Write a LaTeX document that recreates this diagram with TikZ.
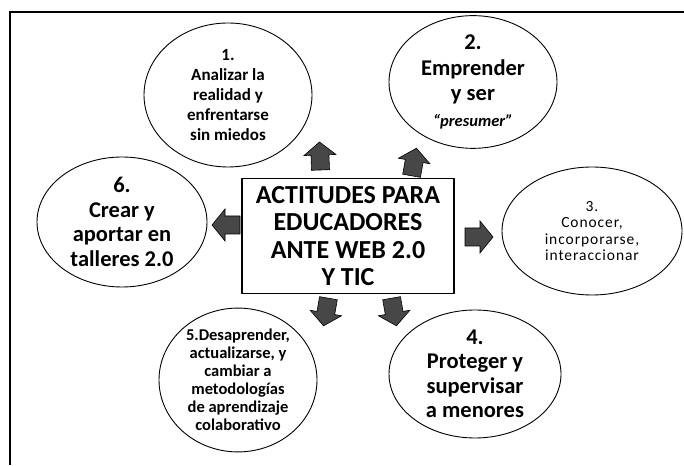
\documentclass[tikz,border=0pt]{standalone}
\usepackage{fontspec}
\setmainfont{Carlito}
\usetikzlibrary{shapes.geometric}
\tikzset{
  oval/.style={ellipse, draw=black, line width=0.9pt, inner sep=0pt, align=center, text=black},
  centerbox/.style={rectangle, draw=black, line width=1.2pt, inner sep=0pt, align=center,
    minimum width=212pt, minimum height=115pt,
    font=\fontsize{26}{27.5}\selectfont\bfseries},
  blockarrow/.style={draw=black, fill=black!72, line width=0.6pt, line join=miter},
  pics/blockarr/.style={code={
    \filldraw[blockarrow] (-14,-9) -- (1,-9) -- (1,-16) -- (14,0) -- (1,16) -- (1,9) -- (-14,9) -- cycle;
  }}
}
\begin{document}
\begin{tikzpicture}[x=1pt,y=1pt]
\useasboundingbox (0,0) rectangle (684,465);
% frame
\draw[line width=1.1pt] (10,0) -- (10,453) -- (684,453);
% centre box
\node[centerbox] (c) at (348,229) {ACTITUDES PARA\\EDUCADORES\\ANTE WEB 2.0\\Y TIC};
% ellipses
\node[oval, minimum width=168pt, minimum height=144pt,
  font=\fontsize{17}{20.2}\selectfont\bfseries] (e1) at (228,370)
  {1.\\Analizar la\\realidad y\\enfrentarse\\sin miedos};
\node[oval, minimum width=168pt, minimum height=124pt,
  font=\fontsize{22.5}{25.5}\selectfont\bfseries] (e2) at (473,383)
  {2.\\Emprender\\y ser\\{\fontsize{16.5}{20}\selectfont\itshape ``presumer''}};
\node[oval, minimum width=180pt, minimum height=128pt,
  font=\fontsize{15.5}{16.5}\selectfont\addfontfeature{LetterSpace=6}] (e3) at (592,234)
  {3.\\Conocer,\\incorporarse,\\interaccionar};
\node[oval, minimum width=172pt, minimum height=128pt,
  font=\fontsize{22.5}{24.5}\selectfont\bfseries] (e4) at (475,91)
  {4.\\Proteger y\\supervisar\\a menores};
\node[oval, minimum width=158pt, minimum height=130pt,
  font=\fontsize{16.5}{18}\selectfont\bfseries] (e5) at (238,85)
  {5.Desaprender,\\actualizarse, y\\cambiar a\\metodologías\\de aprendizaje\\colaborativo};
\node[oval, minimum width=170pt, minimum height=130pt,
  font=\fontsize{22.5}{24.5}\selectfont\bfseries] (e6) at (122,243)
  {6.\\Crear y\\aportar en\\talleres 2.0};
% block arrows
\pic[rotate=92] (a1) at (320,309) {blockarr};
\pic[rotate=80] (a2) at (414,303) {blockarr};
\pic[rotate=180] (a3) at (226,240) {blockarr};
\pic[rotate=0] (a4) at (479,228) {blockarr};
\pic[rotate=-100] (a5) at (326,153) {blockarr};
\pic[rotate=-80] (a6) at (394,153) {blockarr};
\end{tikzpicture}
\end{document}
